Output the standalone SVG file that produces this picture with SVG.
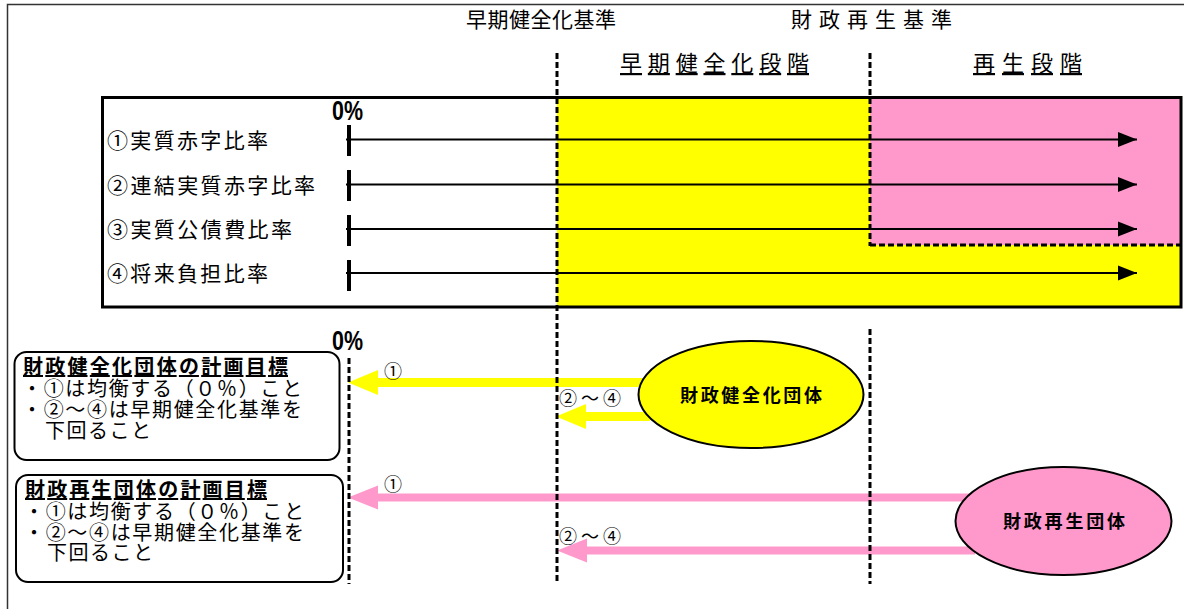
<svg xmlns="http://www.w3.org/2000/svg" width="1184" height="609" viewBox="0 0 1184 609">
<defs>
<style>
.t{font-family:"Noto Sans CJK JP","Noto Sans",sans-serif;fill:#000}
.b{font-weight:bold}
.u{text-decoration:underline}
.dash{stroke:#000;stroke-width:3;stroke-dasharray:6 3;fill:none}
.blk{stroke:#000;stroke-width:2;fill:none;marker-end:url(#ah)}
.tick{stroke:#000;stroke-width:4}
.zero{font-family:"Liberation Sans Narrow","Liberation Sans",sans-serif;font-weight:bold;font-size:27px}
.ya{stroke:#FFFF00;stroke-width:9;fill:none;marker-end:url(#yh)}
.pa{stroke:#FF99CC;stroke-width:8;fill:none;marker-end:url(#ph)}
</style>
<marker id="ah" markerUnits="userSpaceOnUse" markerWidth="19" markerHeight="15" refX="19" refY="7.5" orient="auto" overflow="visible">
<path d="M0,0 L19,7.5 L0,15 Z" fill="#000"/>
</marker>
<marker id="yh" markerUnits="userSpaceOnUse" markerWidth="30" markerHeight="25" refX="0" refY="12.5" orient="auto" overflow="visible">
<path d="M0,0 L30,12.5 L0,25 Z" fill="#FFFF00"/>
</marker>
<marker id="ph" markerUnits="userSpaceOnUse" markerWidth="30" markerHeight="24" refX="0" refY="12" orient="auto" overflow="visible">
<path d="M0,0 L30,12 L0,24 Z" fill="#FF99CC"/>
</marker>
</defs>
<rect width="1184" height="609" fill="#fff"/>
<polyline points="7.5,609 7.5,4.5 1184,4.5" fill="none" stroke="#333" stroke-width="1.5"/>

<g id="headers">
<text class="t" x="466" y="27" font-size="21" textLength="150">早期健全化基準</text>
<text class="t" x="791" y="27" font-size="21" textLength="161">財政再生基準</text>
<text class="t u" x="620" y="71" font-size="22" textLength="189">早期健全化段階</text>
<text class="t u" x="973" y="71" font-size="22" textLength="109">再生段階</text>
</g>

<g id="stage-chart">
<rect x="557" y="97" width="624" height="210" fill="#FFFF00"/>
<rect x="870" y="97" width="311" height="148" fill="#FF99CC"/>
<rect x="102.5" y="97.5" width="1078.5" height="209.5" fill="none" stroke="#000" stroke-width="3"/>
<text class="zero" x="332" y="120" textLength="31" lengthAdjust="spacingAndGlyphs">0%</text>
<text class="t" x="107" y="148" font-size="21" textLength="161">①実質赤字比率</text>
<text class="t" x="107" y="193" font-size="21" textLength="208">②連結実質赤字比率</text>
<text class="t" x="107" y="237" font-size="21" textLength="185">③実質公債費比率</text>
<text class="t" x="107" y="281" font-size="21" textLength="161">④将来負担比率</text>
<line class="tick" x1="349" y1="125" x2="349" y2="156"/>
<line class="tick" x1="349" y1="170" x2="349" y2="201"/>
<line class="tick" x1="349" y1="215" x2="349" y2="246"/>
<line class="tick" x1="349" y1="260" x2="349" y2="291"/>
</g>

<g id="plan-healthy">
<rect x="14.5" y="352" width="325" height="108" rx="12" fill="#fff" stroke="#000" stroke-width="2"/>
<text class="t b u" x="23" y="374" font-size="20" textLength="265">財政健全化団体の計画目標</text>
<text class="t" x="22" y="395.5" font-size="20" textLength="280">・①は均衡する（０％）こと</text>
<text class="t" x="22" y="417" font-size="20" textLength="280">・②～④は早期健全化基準を</text>
<text class="t" x="45" y="438" font-size="20" textLength="106">下回ること</text>
</g>

<g id="plan-rebuild">
<rect x="16" y="475" width="327" height="107" rx="12" fill="#fff" stroke="#000" stroke-width="2"/>
<text class="t b u" x="25" y="497" font-size="20" textLength="242">財政再生団体の計画目標</text>
<text class="t" x="24" y="518.5" font-size="20" textLength="280">・①は均衡する（０％）こと</text>
<text class="t" x="24" y="539.5" font-size="20" textLength="280">・②～④は早期健全化基準を</text>
<text class="t" x="47" y="560" font-size="20" textLength="106">下回ること</text>
</g>

<text class="zero" x="332" y="350" textLength="31" lengthAdjust="spacingAndGlyphs">0%</text>

<g id="connectors">
<line class="blk" x1="346" y1="139.5" x2="1137" y2="139.5"/>
<line class="blk" x1="346" y1="184.5" x2="1137" y2="184.5"/>
<line class="blk" x1="346" y1="229" x2="1137" y2="229"/>
<line class="blk" x1="346" y1="273" x2="1137" y2="273"/>
<path class="ya" d="M650,382.5 L378,382.5"/>
<path class="ya" d="M650,416.5 L586,416.5"/>
<path class="pa" d="M975,497.5 L378,497.5"/>
<path class="pa" d="M975,550.5 L587,550.5"/>
<text class="t" x="384" y="378" font-size="18">①</text>
<text class="t" x="559" y="405" font-size="18" textLength="62">②～④</text>
<text class="t" x="384" y="491" font-size="18">①</text>
<text class="t" x="559" y="543" font-size="18" textLength="62">②～④</text>
</g>

<g id="boundaries">
<line class="dash" x1="557" y1="53" x2="557" y2="584"/>
<line class="dash" x1="870" y1="53" x2="870" y2="246"/>
<line class="dash" x1="870" y1="329" x2="870" y2="584"/>
<line class="dash" x1="349" y1="358" x2="349" y2="584"/>
<line class="dash" x1="870" y1="245" x2="1180" y2="245"/>
</g>

<g id="node-healthy">
<ellipse cx="751" cy="394.5" rx="112.5" ry="53.5" fill="#FFFF00" stroke="#000" stroke-width="2"/>
<text class="t b" x="751" y="401.5" font-size="18" text-anchor="middle" textLength="142">財政健全化団体</text>
</g>

<g id="node-rebuild">
<ellipse cx="1063.5" cy="521" rx="108" ry="54" fill="#FF99CC" stroke="#000" stroke-width="2"/>
<text class="t b" x="1064" y="528" font-size="18" text-anchor="middle" textLength="122">財政再生団体</text>
</g>
</svg>
